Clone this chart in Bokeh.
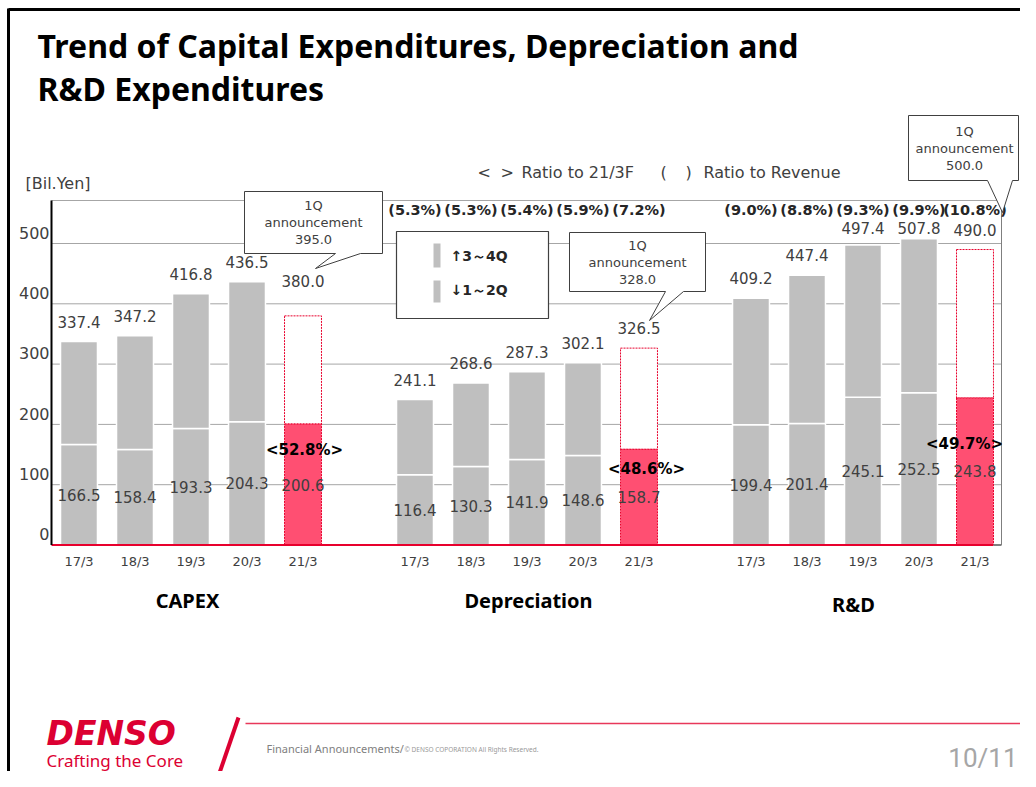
from bokeh.plotting import figure
from bokeh.models import Range1d
from bokeh.core.properties import value
from bokeh.embed import file_html
from bokeh.resources import INLINE

# ---------------- data ----------------
years = ["17/3", "18/3", "19/3", "20/3", "21/3"]
groups = ["CAPEX", "Depreciation", "R&D"]
capex_total = [337.4, 347.2, 416.8, 436.5, 380.0]
capex_h1 = [166.5, 158.4, 193.3, 204.3, 200.6]
dep_total = [241.1, 268.6, 287.3, 302.1, 326.5]
dep_h1 = [116.4, 130.3, 141.9, 148.6, 158.7]
rd_total = [409.2, 447.4, 497.4, 507.8, 490.0]
rd_h1 = [199.4, 201.4, 245.1, 252.5, 243.8]
dep_ratio = ["5.3%", "5.3%", "5.4%", "5.9%", "7.2%"]
rd_ratio = ["9.0%", "8.8%", "9.3%", "9.9%", "10.8%"]
progress = ["52.8%", "48.6%", "49.7%"]
announce = [395.0, 328.0, 500.0]
y_ticks = [0, 100, 200, 300, 400, 500]

# ---------------- geometry helpers (canvas pixels -> data units) ----------------
X0, DX = 78.5, 56.0      # canvas x of slot 0, pixels per slot
Y0, DY = 544.5, 0.603    # canvas y of value 0, pixels per value unit
W, H = 1020, 771


def xd(px):
    return (px - X0) / DX


def yd(py):
    return (Y0 - py) / DY


GRAY = "#BFBFBF"
RED = "#FF4F72"
RED_LINE = "#E8002D"
TXT = "#404040"
LBL_FONT = "DejaVu Sans"
HEAD_FONT = "Noto Sans"

p = figure(width=W, height=H,
           x_range=Range1d(xd(0), xd(W)), y_range=Range1d(yd(H), yd(0)),
           x_axis_location=None, y_axis_location=None, min_border=0,
           toolbar_location=None, output_backend="svg",
           outline_line_color=None, background_fill_color="white",
           border_fill_color="white")
p.grid.visible = False


def txt(px, py, s, size, color=TXT, font=LBL_FONT, style="normal", align="center",
        baseline="middle"):
    p.text(x=[xd(px)], y=[yd(py)], text=[s], text_font=value(font),
           text_font_size=size, text_color=color, text_font_style=style,
           text_align=align, text_baseline=baseline)


# ---------------- slide frame ----------------
p.segment(x0=[xd(8)], y0=[yd(8)], x1=[xd(8)], y1=[yd(H)], line_color="black", line_width=3)
p.segment(x0=[xd(8)], y0=[yd(9)], x1=[xd(W)], y1=[yd(9)], line_color="black", line_width=3)

# ---------------- title ----------------
txt(37, 45, "Trend of Capital Expenditures, Depreciation and", "32px", color="black",
    font=HEAD_FONT, style="bold", align="left")
txt(37, 88, "R&D Expenditures", "32px", color="black", font=HEAD_FONT, style="bold", align="left")

# ---------------- chart frame / grid ----------------
grid_vals = y_ticks[1:]
p.segment(x0=[xd(51)] * len(grid_vals), y0=grid_vals, x1=[xd(1001)] * len(grid_vals),
          y1=grid_vals, line_color="#A6A6A6", line_width=1)
p.segment(x0=[xd(51)], y0=[yd(200)], x1=[xd(1001)], y1=[yd(200)], line_color="#A6A6A6", line_width=1)
p.segment(x0=[xd(1001)], y0=[yd(200)], x1=[xd(1001)], y1=[0], line_color="#7F7F7F", line_width=1)

# y tick labels
p.text(x=[xd(49)] * len(y_ticks), y=[v + 8 for v in y_ticks], text=[str(v) for v in y_ticks],
       text_font=value(LBL_FONT), text_font_size="16px", text_color=TXT,
       text_align="right", text_baseline="bottom")
txt(25, 183, "[Bil.Yen]", "16px", align="left")

# ---------------- bars ----------------
totals = [capex_total, dep_total, rd_total]
h1s = [capex_h1, dep_h1, rd_h1]
BW = 0.66
ax, alo, ahi, fx, flo, fhi = [], [], [], [], [], []
lab_x, lab_top_y, lab_top, lab_lo_y, lab_lo = [], [], [], [], []
tick_x, tick_t = [], []
top_pad = [[33, 33, 33, 33, 58], [33] * 5, [33] * 5]
for g in range(3):
    for i in range(5):
        s = g * 6 + i
        t, h = totals[g][i], h1s[g][i]
        if i < 4:
            ax.append(s); alo.append(h); ahi.append(t)
        else:
            fx.append(s); flo.append(h); fhi.append(t)
        lab_x.append(s)
        lab_top_y.append(min(t + top_pad[g][i], yd(227)))
        lab_top.append(f"{t:.1f}")
        lab_lo_y.append(h / 2)
        lab_lo.append(f"{h:.1f}")
        tick_x.append(s); tick_t.append(years[i])

p.vbar(x=ax, bottom=0, top=alo, width=BW, fill_color=GRAY, line_color="white", line_width=1.5)
p.vbar(x=ax, bottom=alo, top=ahi, width=BW, fill_color=GRAY, line_color="white", line_width=1.5)
p.vbar(x=fx, bottom=flo, top=fhi, width=BW, fill_color="white", line_color=RED_LINE,
       line_width=1, line_dash="2 1")
p.vbar(x=fx, bottom=0, top=flo, width=BW, fill_color=RED, line_color=RED_LINE,
       line_width=1, line_dash="2 1")

# baseline
p.segment(x0=[xd(51)], y0=[0], x1=[xd(993)], y1=[0], line_color=RED_LINE, line_width=2)
p.segment(x0=[xd(993)], y0=[0], x1=[xd(1001)], y1=[0], line_color="#7F7F7F", line_width=2)
# left axis line
p.segment(x0=[xd(51)], y0=[yd(200)], x1=[xd(51)], y1=[0], line_color="black", line_width=2)

# value labels
p.text(x=lab_x, y=lab_top_y, text=lab_top, text_font=value(LBL_FONT), text_font_size="15px",
       text_color=TXT, text_align="center", text_baseline="middle")
p.text(x=lab_x, y=lab_lo_y, text=lab_lo, text_font=value(LBL_FONT), text_font_size="15px",
       text_color=TXT, text_align="center", text_baseline="middle")
p.text(x=tick_x, y=[yd(561)] * len(tick_x), text=tick_t, text_font=value(LBL_FONT),
       text_font_size="13px", text_color=TXT, text_align="center", text_baseline="middle")

# ratio to revenue
p.text(x=[6 + i for i in range(5)], y=[yd(209)] * 5, text=[f"({r})" for r in dep_ratio],
       text_font=value(LBL_FONT), text_font_size="14.5px", text_font_style="bold",
       text_color="#262626", text_align="center", text_baseline="middle")
p.text(x=[12 + i for i in range(5)], y=[yd(209)] * 5, text=[f"({r})" for r in rd_ratio],
       text_font=value(LBL_FONT), text_font_size="14.5px", text_font_style="bold",
       text_color="#262626", text_align="center", text_baseline="middle")

# progress ratio labels (ratio to 21/3F)
prog_pos = [(304, 449), (646, 468), (964, 443)]
for k in range(3):
    txt(prog_pos[k][0], prog_pos[k][1], f"<{progress[k]}>", "15px", color="black", style="bold")

# group labels
grp_pos = [(187, 600), (528, 600), (853, 604)]
for k in range(3):
    txt(grp_pos[k][0], grp_pos[k][1], groups[k], "20px", color="black", font=HEAD_FONT, style="bold")

# header legend text
txt(477, 172, "<", "16px", align="left")
txt(500, 172, ">", "16px", align="left")
txt(521, 172, "Ratio to 21/3F", "16px", align="left")
txt(660, 172, "(", "16px", align="left")
txt(685, 172, ")", "16px", align="left")
txt(703, 172, "Ratio to Revenue", "16px", align="left")

# ---------------- legend box ----------------
p.quad(left=[xd(396)], right=[xd(548)], top=[yd(231)], bottom=[yd(318)],
       fill_color="white", line_color="#404040", line_width=1.2)
p.quad(left=[xd(433), xd(433)], right=[xd(440), xd(440)], top=[yd(243), yd(280)],
       bottom=[yd(267), yd(302)], fill_color=GRAY, line_color=None)
txt(450, 255, "↑3～4Q", "14px", color="#262626", style="bold", align="left")
txt(450, 289, "↓1～2Q", "14px", color="#262626", style="bold", align="left")


# ---------------- callouts ----------------
def callout(x0, x1, y0, y1, bl, br, tx, ty, cx, line_ys, k):
    px_ = [x0, x1, x1, br, tx, bl, x0]
    py_ = [y0, y0, y1, y1, ty, y1, y1]
    p.patch(x=[xd(v) for v in px_], y=[yd(v) for v in py_], fill_color="white",
            line_color="#404040", line_width=1)
    for s, yy in zip(["1Q", "announcement", f"{announce[k]:.1f}"], line_ys):
        txt(cx, yy, s, "13px")


callout(244, 382, 191, 253, 335, 360, 315, 268, 313, [205, 222, 239], 0)
callout(569, 705, 232, 291, 665, 683, 649, 320, 637, [245, 262, 279], 1)
callout(908, 1018, 115, 180, 987, 1012, 1002, 212, 964, [131, 148, 165], 2)

# ---------------- footer ----------------
txt(46, 733, "DENSO", "33px", color="#DC0032", font="DejaVu Sans", style="bold italic", align="left")
txt(46, 760, "Crafting the Core", "17px", color="#DC0032", font=HEAD_FONT, align="left")
p.segment(x0=[xd(238)], y0=[yd(717)], x1=[xd(213)], y1=[yd(790)], line_color="#DC0032", line_width=4)
p.segment(x0=[xd(245)], y0=[yd(723)], x1=[xd(W)], y1=[yd(723)], line_color="#E8385A", line_width=1.5)
txt(266, 748, "Financial Announcements/", "11px", color="#808080", font=HEAD_FONT, align="left")
txt(404, 749, "© DENSO COPORATION All Rights Reserved.", "6.5px", color="#999999",
    font=HEAD_FONT, align="left")
txt(1017, 757, "10/11", "26px", color="#A6A6A6", font="Roboto", align="right")

open("out.html", "w").write(file_html(p, INLINE))
